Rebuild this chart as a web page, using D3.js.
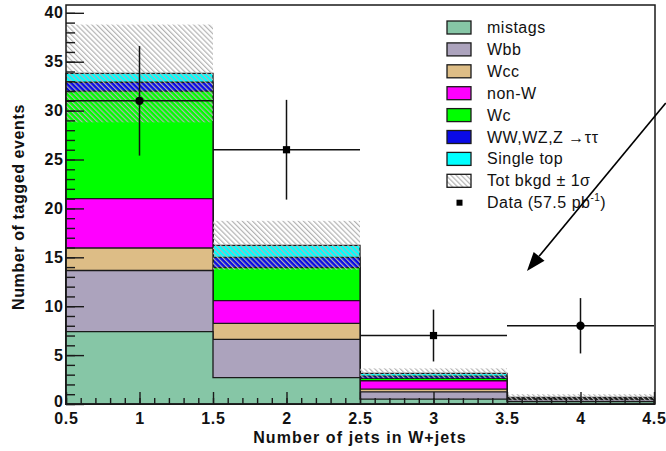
<!DOCTYPE html>
<html>
<head>
<meta charset="utf-8">
<script src="https://cdn.jsdelivr.net/npm/d3@7"></script>
<style>
  body { margin: 0; background: #fff; }
  svg { display: block; }
  text { font-family: "Liberation Sans", Arial, Helvetica, sans-serif; fill: #111; }
</style>
</head>
<body>
<svg id="chart" width="666" height="451"></svg>
<script>
// Jet-multiplicity bins
const binCenters = [1, 2, 3, 4];
const binEdges = [0.5, 1.5, 2.5, 3.5, 4.5];

// Background contributions per bin (events)
const mistags   = [7.4, 2.7, 0.5, 0.25];
const wbb       = [6.25, 3.9, 0.75, 0.2];
const wcc       = [2.3, 1.65, 0.28, 0.05];
const nonW      = [5.05, 2.32, 0.85, 0.05];
const wc        = [11.0, 3.38, 0.25, 0.04];
const diboson   = [0.9, 1.05, 0.23, 0.03];
const singleTop = [0.9, 1.23, 0.28, 0.05];

// Total background uncertainty (1 sigma)
const bkgSigma = [5.0, 2.5, 0.5, 0.33];

// Observed tagged events with errors
const dataCounts = [31, 26, 7, 8];
const dataErrors = [5.6, 5.1, 2.65, 2.83];

// Axis ticks
const yMajorTicks = [0, 5, 10, 15, 20, 25, 30, 35, 40];
const xMajorTicks = [0.5, 1, 1.5, 2, 2.5, 3, 3.5, 4, 4.5];

const processKeys = ["mistags", "Wbb", "Wcc", "nonW", "Wc", "diboson", "singleTop"];
const processLabels = ["mistags", "Wbb", "Wcc", "non-W", "Wc", "WW,WZ,Z \u2192\u03c4\u03c4", "Single top"];
const processColors = ["#86c6a6", "#aca3bd", "#ddbd86", "#ff00ff", "#00ff00", "#0a0ae6", "#00ffff"];
const processValues = [mistags, wbb, wcc, nonW, wc, diboson, singleTop];
const markerShapes = ["circle", "square", "square", "circle"];

const svg = d3.select("#chart");

const x = d3.scaleLinear().domain([0.5, 4.5]).range([66, 654]);
const y = d3.scaleLinear().domain([0, 40.8]).range([404, 5]);

// Hatch pattern for the background uncertainty band
const defs = svg.append("defs");
const pat = defs.append("pattern")
  .attr("id", "hatch")
  .attr("patternUnits", "userSpaceOnUse")
  .attr("width", 3.6).attr("height", 3.6)
  .attr("patternTransform", "rotate(-45)");
pat.append("line")
  .attr("x1", 0.6).attr("y1", 0).attr("x2", 0.6).attr("y2", 3.6)
  .attr("stroke", "#b2b2b2").attr("stroke-width", 1.2);

// Stacked backgrounds
const rows = binCenters.map((c, i) => {
  const r = { bin: c };
  processKeys.forEach((k, j) => { r[k] = processValues[j][i]; });
  return r;
});
const series = d3.stack().keys(processKeys)(rows);

const stepArea = d3.area()
  .x(d => x(d[0]))
  .y0(y(0))
  .y1(d => y(d[1]));

// Each cumulative layer is drawn as a filled step outline, largest first
const gStack = svg.append("g");
for (let k = series.length - 1; k >= 0; k--) {
  const pts = [];
  series[k].forEach((d, i) => {
    pts.push([binEdges[i], d[1]]);
    pts.push([binEdges[i + 1], d[1]]);
  });
  gStack.append("path")
    .attr("d", stepArea(pts))
    .attr("fill", processColors[k])
    .attr("stroke", "#1a1a1a")
    .attr("stroke-width", 1.3)
    .attr("stroke-linejoin", "miter");
}

// Uncertainty band around the total
const totals = series[series.length - 1].map(d => d[1]);
svg.append("g").selectAll("rect")
  .data(totals)
  .join("rect")
  .attr("x", (d, i) => x(binEdges[i]))
  .attr("width", (d, i) => x(binEdges[i + 1]) - x(binEdges[i]))
  .attr("y", (d, i) => y(d + bkgSigma[i]))
  .attr("height", (d, i) => y(d - bkgSigma[i]) - y(d + bkgSigma[i]))
  .attr("fill", "url(#hatch)");

// Axes with inward ticks
const yMinor = d3.range(0, 41, 1);
const xMinor = d3.range(5, 46, 1).map(v => v / 10);

const yAxisMinor = svg.append("g").attr("transform", `translate(${x(0.5)},0)`)
  .call(d3.axisLeft(y).tickValues(yMinor).tickSize(-9).tickFormat(""));
const yAxis = svg.append("g").attr("transform", `translate(${x(0.5)},0)`)
  .call(d3.axisLeft(y).tickValues(yMajorTicks).tickSize(-18).tickPadding(3).tickFormat(d3.format("~g")));
const xAxisMinor = svg.append("g").attr("transform", `translate(0,${y(0)})`)
  .call(d3.axisBottom(x).tickValues(xMinor).tickSize(-6).tickFormat(""));
const xAxis = svg.append("g").attr("transform", `translate(0,${y(0)})`)
  .call(d3.axisBottom(x).tickValues(xMajorTicks).tickSize(-12).tickPadding(9).tickFormat(d3.format("~g")));

[yAxisMinor, yAxis, xAxisMinor, xAxis].forEach(g => {
  g.select(".domain").remove();
  g.selectAll(".tick line").attr("stroke", "#1a1a1a").attr("stroke-width", 1.4);
});
[yAxis, xAxis].forEach(g => {
  g.selectAll(".tick text")
    .attr("fill", "#111")
    .style("font-family", "'Liberation Sans', Arial, sans-serif")
    .style("font-size", "16px")
    .style("font-weight", "bold")
    .style("letter-spacing", "0.8px");
});
yAxis.selectAll(".tick text").attr("dx", "0.8px");
// keep the "0" label clear of the "0.5" label below it
yAxis.selectAll(".tick text").filter(d => d === 0).attr("dy", "0.15em");

// Frame
svg.append("rect")
  .attr("x", x(0.5)).attr("y", y(40.8))
  .attr("width", x(4.5) - x(0.5) + 1).attr("height", y(0) - y(40.8))
  .attr("fill", "none").attr("stroke", "#1a1a1a").attr("stroke-width", 1.5);

// Data points with error bars
const gData = svg.append("g").attr("stroke", "#111").attr("stroke-width", 1.5);
dataCounts.forEach((v, i) => {
  gData.append("line")
    .attr("x1", x(binEdges[i])).attr("x2", x(binEdges[i + 1]))
    .attr("y1", y(v)).attr("y2", y(v));
  gData.append("line")
    .attr("x1", x(binCenters[i])).attr("x2", x(binCenters[i]))
    .attr("y1", y(v - dataErrors[i])).attr("y2", y(v + dataErrors[i]));
  if (markerShapes[i] === "circle") {
    gData.append("circle")
      .attr("cx", x(binCenters[i])).attr("cy", y(v)).attr("r", 4.2)
      .attr("fill", "#000").attr("stroke", "none");
  } else {
    gData.append("rect")
      .attr("x", x(binCenters[i]) - 3.6).attr("y", y(v) - 3.6)
      .attr("width", 7.2).attr("height", 7.2)
      .attr("fill", "#000").attr("stroke", "none");
  }
});

// Axis titles
svg.append("text")
  .attr("transform", `translate(24,207) rotate(-90)`)
  .attr("text-anchor", "middle")
  .style("font-size", "16px").style("font-weight", "bold").style("letter-spacing", "0.6px")
  .text("Number of tagged events");

svg.append("text")
  .attr("x", 360).attr("y", 443)
  .attr("text-anchor", "middle")
  .style("font-size", "16px").style("font-weight", "bold").style("letter-spacing", "1.1px")
  .text("Number of jets in W+jets");

// Legend
const legX = 447, legY0 = 27.5, legStep = 21.9;
const gLeg = svg.append("g").style("letter-spacing", "0.5px");
const legendItems = processLabels.map((l, i) => ({ label: l, fill: processColors[i] }));
legendItems.push({ label: "Tot bkgd \u00b1 1\u03c3", fill: "hatch" });
legendItems.forEach((it, i) => {
  const cy = legY0 + i * legStep;
  if (it.fill === "hatch") {
    gLeg.append("rect").attr("x", legX).attr("y", cy - 6.5).attr("width", 24).attr("height", 13)
      .attr("fill", "#fff");
    gLeg.append("rect").attr("x", legX).attr("y", cy - 6.5).attr("width", 24).attr("height", 13)
      .attr("fill", "url(#hatch)").attr("stroke", "#1a1a1a").attr("stroke-width", 1.3);
  } else {
    gLeg.append("rect").attr("x", legX).attr("y", cy - 6.5).attr("width", 24).attr("height", 13)
      .attr("fill", it.fill).attr("stroke", "#1a1a1a").attr("stroke-width", 1.3);
  }
  gLeg.append("text").attr("x", 487).attr("y", cy + 5.5)
    .style("font-size", "16px")
    .text(it.label);
});
{
  const cy = legY0 + legendItems.length * legStep;
  gLeg.append("rect").attr("x", 456.5).attr("y", cy - 3).attr("width", 6).attr("height", 6).attr("fill", "#000");
  const t = gLeg.append("text").attr("x", 487).attr("y", cy + 5.5).style("font-size", "16px");
  t.append("tspan").text("Data (57.5 pb");
  t.append("tspan").attr("dy", -7).style("font-size", "10px").text("-1");
  t.append("tspan").attr("dy", 7).text(")");
}

// Annotation arrow
const a0 = [x(4.58), y(30.78)], a1 = [x(3.636), y(13.6)];
const ang = Math.atan2(a1[1] - a0[1], a1[0] - a0[0]);
const headLen = 19, headHalf = 7;
const bx = a1[0] - headLen * Math.cos(ang), by = a1[1] - headLen * Math.sin(ang);
svg.append("line")
  .attr("x1", a0[0]).attr("y1", a0[1]).attr("x2", bx).attr("y2", by)
  .attr("stroke", "#000").attr("stroke-width", 1.6);
svg.append("path")
  .attr("d", `M${a1[0]},${a1[1]}L${bx - headHalf * Math.sin(ang)},${by + headHalf * Math.cos(ang)}L${bx + headHalf * Math.sin(ang)},${by - headHalf * Math.cos(ang)}Z`)
  .attr("fill", "#000");
</script>
</body>
</html>
